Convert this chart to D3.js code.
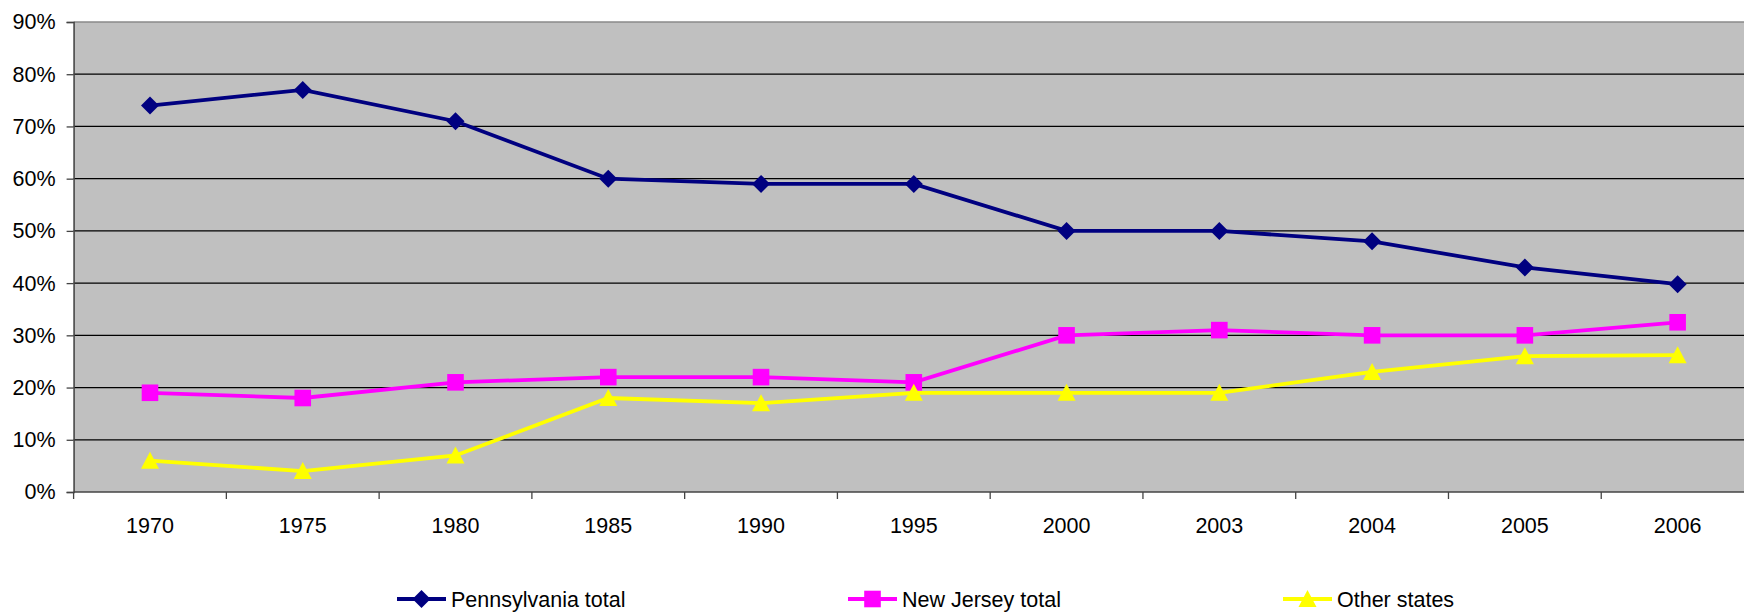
<!DOCTYPE html>
<html>
<head>
<meta charset="utf-8">
<script src="https://cdn.jsdelivr.net/npm/d3@7"></script>
<style>
  body { margin: 0; background: #fff; }
  svg { display: block; font-family: "Liberation Sans", Arial, sans-serif; }
</style>
</head>
<body>
<script>
const years = ["1970", "1975", "1980", "1985", "1990", "1995", "2000", "2003", "2004", "2005", "2006"];
const pennsylvania = [74, 77, 71, 60, 59, 59, 50, 50, 48, 43, 39.8];
const newJersey = [19, 18, 21, 22, 22, 21, 30, 31, 30, 30, 32.5];
const otherStates = [6, 4, 7, 18, 17, 19, 19, 19, 23, 26, 26.2];
const yTicks = [0, 10, 20, 30, 40, 50, 60, 70, 80, 90];

const series = [
  { name: "Pennsylvania total", values: pennsylvania, color: "#000080", shape: "diamond", legendX: 397 },
  { name: "New Jersey total", values: newJersey, color: "#ff00ff", shape: "square", legendX: 848 },
  { name: "Other states", values: otherStates, color: "#ffff00", shape: "triangle", legendX: 1283 }
];

const width = 1744, height = 612;
const plotLeft = 73.6, plotRight = 1754, plotTop = 22, plotBottom = 492;
const fontSize = 21.5;

const svg = d3.select("body").append("svg")
  .attr("width", width)
  .attr("height", height);

const x = d3.scaleBand().domain(years).range([plotLeft, plotRight]);
const y = d3.scaleLinear().domain([0, 90]).range([plotBottom, plotTop]);

// plot background
svg.append("rect")
  .attr("x", plotLeft).attr("y", plotTop)
  .attr("width", plotRight - plotLeft).attr("height", plotBottom - plotTop)
  .attr("fill", "#c0c0c0");

// gridlines
svg.append("g").selectAll("line")
  .data(yTicks.filter(d => d > 0 && d < 90))
  .join("line")
  .attr("x1", plotLeft).attr("x2", plotRight)
  .attr("y1", d => y(d)).attr("y2", d => y(d))
  .attr("stroke", "#000").attr("stroke-width", 1.3);

svg.append("line")
  .attr("x1", plotLeft).attr("x2", plotRight)
  .attr("y1", plotTop).attr("y2", plotTop)
  .attr("stroke", "#8a8a8a").attr("stroke-width", 1.5);

// y axis
const yAxis = svg.append("g")
  .attr("transform", `translate(${plotLeft},0)`)
  .call(d3.axisLeft(y).tickValues(yTicks).tickSize(7).tickPadding(11).tickFormat(d => d + "%"));
yAxis.select(".domain").attr("stroke", "#444").attr("stroke-width", 1.5);
yAxis.selectAll(".tick line").attr("stroke", "#444").attr("stroke-width", 1.3);
yAxis.selectAll("text").attr("font-size", fontSize).attr("fill", "#000")
  .attr("font-family", "'Liberation Sans', Arial, sans-serif");

// x axis
const xTickPos = d3.range(years.length + 1).map(i => plotLeft + i * x.step());
const xAxisG = svg.append("g");
xAxisG.append("line")
  .attr("x1", plotLeft).attr("x2", plotRight)
  .attr("y1", plotBottom).attr("y2", plotBottom)
  .attr("stroke", "#444").attr("stroke-width", 1.5);
xAxisG.selectAll("line.tick")
  .data(xTickPos)
  .join("line")
  .attr("class", "tick")
  .attr("x1", d => d).attr("x2", d => d)
  .attr("y1", plotBottom).attr("y2", plotBottom + 7)
  .attr("stroke", "#444").attr("stroke-width", 1.3);
xAxisG.selectAll("text")
  .data(years)
  .join("text")
  .attr("x", d => x(d) + x.bandwidth() / 2)
  .attr("y", 533)
  .attr("text-anchor", "middle")
  .attr("font-size", fontSize)
  .text(d => d);

function markerPath(shape) {
  if (shape === "diamond") return "M0,-9L9,0L0,9L-9,0Z";
  if (shape === "square") return "M-8.3,-8.3H8.3V8.3H-8.3Z";
  return "M0,-9L9,8H-9Z";
}

const line = d3.line()
  .x((d, i) => x(years[i]) + x.bandwidth() / 2)
  .y(d => y(d));

series.forEach(s => {
  svg.append("path")
    .datum(s.values)
    .attr("d", line)
    .attr("fill", "none")
    .attr("stroke", s.color)
    .attr("stroke-width", 3.8);
  svg.append("g").selectAll("path")
    .data(s.values)
    .join("path")
    .attr("transform", (d, i) => `translate(${x(years[i]) + x.bandwidth() / 2},${y(d)})`)
    .attr("d", markerPath(s.shape))
    .attr("fill", s.color);
});

// legend
const legendY = 599;
series.forEach(s => {
  const g = svg.append("g");
  g.append("line")
    .attr("x1", s.legendX).attr("x2", s.legendX + 49)
    .attr("y1", legendY).attr("y2", legendY)
    .attr("stroke", s.color).attr("stroke-width", 3.8);
  g.append("path")
    .attr("transform", `translate(${s.legendX + 24.5},${legendY})`)
    .attr("d", markerPath(s.shape))
    .attr("fill", s.color);
  g.append("text")
    .attr("x", s.legendX + 54)
    .attr("y", legendY + 7.5)
    .attr("font-size", fontSize)
    .text(s.name);
});
</script>
</body>
</html>
